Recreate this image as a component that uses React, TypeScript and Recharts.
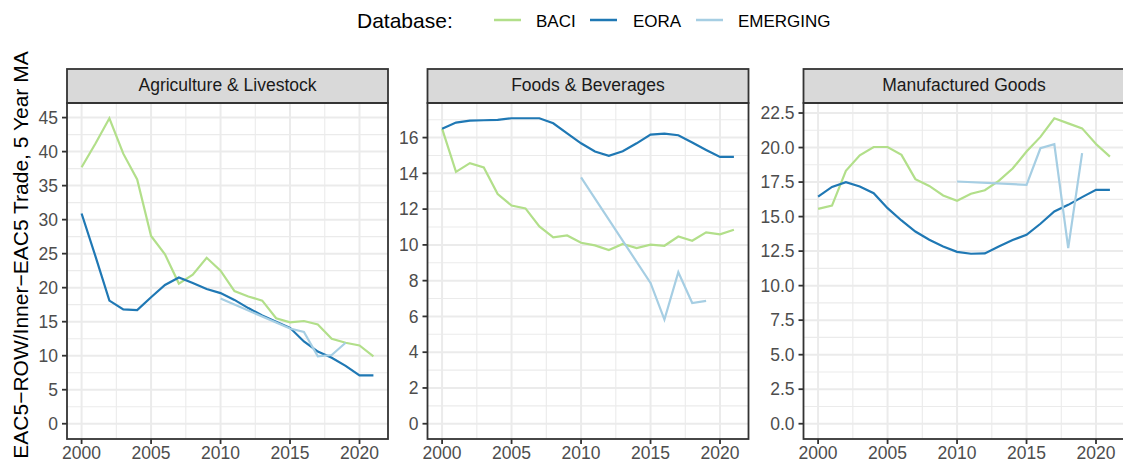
import { LineChart, Line, XAxis, YAxis, CartesianGrid } from 'recharts';

const years = [2000, 2001, 2002, 2003, 2004, 2005, 2006, 2007, 2008, 2009, 2010, 2011, 2012, 2013, 2014, 2015, 2016, 2017, 2018, 2019, 2020, 2021];

const baciAgri = [37.7, 41.2, 44.9, 39.7, 35.9, 27.6, 24.9, 20.6, 21.9, 24.4, 22.5, 19.5, 18.7, 18.1, 15.5, 14.9, 15.1, 14.6, 12.5, 11.9, 11.5, 9.9];
const eoraAgri = [30.9, 24.6, 18.1, 16.8, 16.7, 18.6, 20.4, 21.5, 20.7, 19.8, 19.2, 18.2, 17.0, 15.9, 15.0, 14.1, 12.1, 10.6, 9.7, 8.5, 7.1, 7.1];
const emergingAgri = [null, null, null, null, null, null, null, null, null, null, 18.4, null, null, null, null, 14.0, 13.5, 9.9, 10.1, 11.9, null, null];

const baciFood = [16.5, 14.08, 14.57, 14.33, 12.84, 12.2, 12.04, 11.03, 10.42, 10.53, 10.12, 9.97, 9.71, 10.05, 9.82, 10.01, 9.95, 10.47, 10.23, 10.7, 10.59, 10.85];
const eoraFood = [16.5, 16.84, 16.95, 16.97, 16.99, 17.08, 17.08, 17.08, 16.8, 16.24, 15.68, 15.22, 14.98, 15.24, 15.68, 16.17, 16.22, 16.13, 15.72, 15.31, 14.92, 14.92];
const emergingFood = [null, null, null, null, null, null, null, null, null, null, 13.77, null, null, null, null, 7.87, 5.82, 8.47, 6.75, 6.87, null, null];

const baciMan = [15.56, 15.8, 18.31, 19.44, 20.04, 20.04, 19.47, 17.71, 17.22, 16.53, 16.14, 16.65, 16.91, 17.59, 18.48, 19.71, 20.77, 22.12, 21.75, 21.39, 20.26, 19.34];
const eoraMan = [16.45, 17.15, 17.49, 17.18, 16.69, 15.61, 14.72, 13.92, 13.32, 12.84, 12.45, 12.31, 12.33, 12.84, 13.3, 13.68, 14.48, 15.37, 15.85, 16.41, 16.94, 16.94];
const emergingMan = [null, null, null, null, null, null, null, null, null, null, 17.54, null, null, null, null, 17.3, 19.95, 20.24, 12.72, 19.59, null, null];

const xTicks = [2000, 2005, 2010, 2015, 2020];
const xMinor = [2002.5, 2007.5, 2012.5, 2017.5];

const agriTicks = [0, 5, 10, 15, 20, 25, 30, 35, 40, 45];
const foodTicks = [0, 2, 4, 6, 8, 10, 12, 14, 16];
const manTicks = [0, 2.5, 5, 7.5, 10, 12.5, 15, 17.5, 20, 22.5];

const seriesNames = ['BACI', 'EORA', 'EMERGING'];
const seriesColors = ['#B2DF8A', '#1F78B4', '#A6CEE3'];

const FONT = '"Liberation Sans", Arial, Helvetica, sans-serif';
const PLOT_TOP = 103;
const PLOT_BOTTOM = 439;
const PLOT_W = 321;

const buildRows = (b: (number | null)[], e: (number | null)[], m: (number | null)[]) =>
  years.map((year, i) => ({ year, BACI: b[i], EORA: e[i], EMERGING: m[i] }));

const padDomain = (rows: any[]) => {
  const vals = rows.flatMap((r) => [r.BACI, r.EORA, r.EMERGING]).filter((v) => v != null) as number[];
  const lo = Math.min(0, ...vals);
  const hi = Math.max(...vals);
  const p = (hi - lo) * 0.05;
  return [lo - p, hi + p];
};

const minorOf = (ticks: number[], domain: number[]) => {
  const step = ticks[1] - ticks[0];
  const out: number[] = [];
  for (let v = ticks[0] - step / 2; v <= domain[1]; v += step) {
    if (v >= domain[0]) out.push(v);
  }
  return out;
};

const panels = [
  { title: 'Agriculture & Livestock', rows: buildRows(baciAgri, eoraAgri, emergingAgri), ticks: agriTicks, fmt: (v: number) => String(v), chartLeft: 0, width: 400, plotLeft: 67 },
  { title: 'Foods & Beverages', rows: buildRows(baciFood, eoraFood, emergingFood), ticks: foodTicks, fmt: (v: number) => String(v), chartLeft: 400, width: 360, plotLeft: 427.5 },
  { title: 'Manufactured Goods', rows: buildRows(baciMan, eoraMan, emergingMan), ticks: manTicks, fmt: (v: number) => v.toFixed(1), chartLeft: 760, width: 370, plotLeft: 803.5 },
];

function Panel({ p }: { p: (typeof panels)[number] }) {
  const domain = padDomain(p.rows);
  const yAxisW = p.plotLeft - p.chartLeft;
  const rightMargin = p.width - yAxisW - PLOT_W;
  const tickStyle = { fill: '#4D4D4D', fontSize: 17.5, fontFamily: FONT };
  return (
    <div style={{ position: 'absolute', left: p.chartLeft, top: 0 }}>
      <LineChart
        width={p.width}
        height={464}
        data={p.rows}
        margin={{ top: PLOT_TOP, right: rightMargin, bottom: 0, left: 0 }}
      >
        <CartesianGrid stroke="#EBEBEB" strokeWidth={1.1} horizontalValues={minorOf(p.ticks, domain)} verticalValues={xMinor} />
        <CartesianGrid stroke="#EBEBEB" strokeWidth={2} horizontalValues={p.ticks} verticalValues={xTicks} />
        <XAxis
          dataKey="year"
          type="number"
          domain={[1998.95, 2022.05]}
          ticks={xTicks}
          allowDataOverflow
          height={464 - PLOT_BOTTOM}
          axisLine={false}
          tickLine={{ stroke: '#333333', strokeWidth: 1.8 }}
          tickSize={5}
          tickMargin={3}
          tick={tickStyle}
        />
        <YAxis
          type="number"
          domain={domain}
          ticks={p.ticks}
          allowDataOverflow
          width={yAxisW}
          axisLine={false}
          tickLine={{ stroke: '#333333', strokeWidth: 1.8 }}
          tickSize={5}
          tickMargin={4}
          tick={tickStyle}
          tickFormatter={p.fmt}
          interval={0}
        />
        {seriesNames.map((name, i) => (
          <Line
            key={name}
            dataKey={name}
            type="linear"
            stroke={seriesColors[i]}
            strokeWidth={2.2}
            dot={false}
            connectNulls
            isAnimationActive={false}
          />
        ))}
      </LineChart>
    </div>
  );
}

const legendKeyX = [494, 590, 696];
const legendLabelX = [536, 633, 738];

export default function App() {
  return (
    <div style={{ position: 'absolute', left: 0, top: 0, width: 1123, height: 464, overflow: 'hidden', background: '#fff' }}>
      {panels.map((p) => (
        <Panel key={p.title} p={p} />
      ))}
      <svg width={1123} height={464} style={{ position: 'absolute', left: 0, top: 0, pointerEvents: 'none' }} fontFamily={FONT}>
        <text x={357} y={28} fontSize={21} fill="#000">Database:</text>
        {seriesNames.map((name, i) => (
          <g key={name}>
            <line x1={legendKeyX[i]} x2={legendKeyX[i] + 27} y1={20} y2={20} stroke={seriesColors[i]} strokeWidth={2.5} />
            <text x={legendLabelX[i]} y={27} fontSize={17} fill="#000">{name}</text>
          </g>
        ))}
        <text transform="translate(28,255) rotate(-90)" textAnchor="middle" fontSize={21} fill="#000">
          EAC5−ROW/Inner−EAC5 Trade, 5 Year MA
        </text>
        {panels.map((p) => (
          <g key={p.title}>
            <rect x={p.plotLeft} y={69} width={PLOT_W} height={PLOT_TOP - 69} fill="#D9D9D9" stroke="#333333" strokeWidth={1.8} />
            <text x={p.plotLeft + PLOT_W / 2} y={90.5} textAnchor="middle" fontSize={17.5} fill="#1A1A1A">{p.title}</text>
            <rect x={p.plotLeft} y={PLOT_TOP} width={PLOT_W} height={PLOT_BOTTOM - PLOT_TOP} fill="none" stroke="#333333" strokeWidth={1.8} />
          </g>
        ))}
      </svg>
    </div>
  );
}
